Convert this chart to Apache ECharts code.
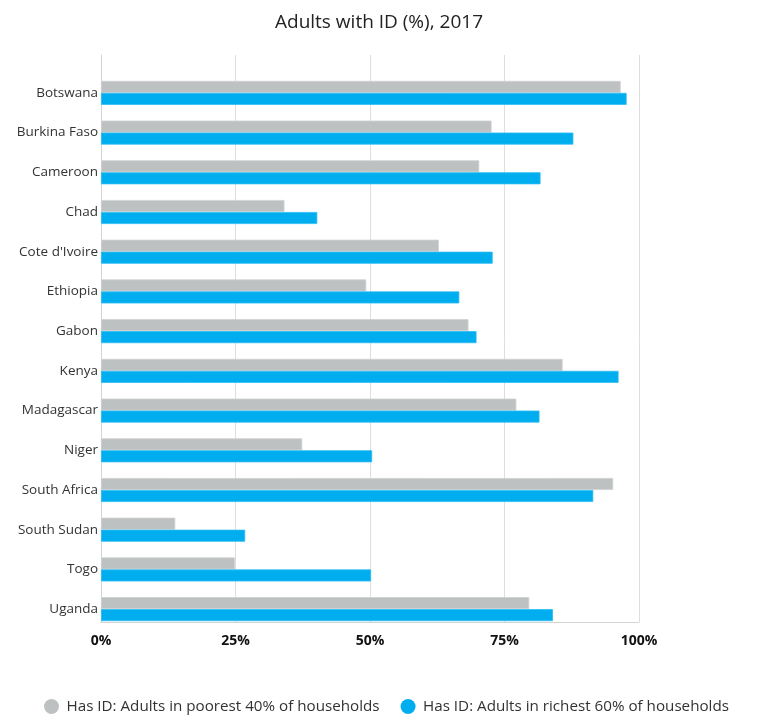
<!DOCTYPE html>
<html>
<head>
<meta charset="utf-8">
<script src="https://cdn.jsdelivr.net/npm/echarts@6/dist/echarts.min.js"></script>
<style>
html,body{margin:0;padding:0;background:#fff;}
#chart{width:760px;height:715px;}
</style>
</head>
<body>
<div id="chart"></div>
<script>
const categories = ["Botswana","Burkina Faso","Cameroon","Chad","Cote d'Ivoire","Ethiopia","Gabon","Kenya","Madagascar","Niger","South Africa","South Sudan","Togo","Uganda"];
const poorest40 = [96.6, 72.6, 70.3, 34.1, 62.8, 49.3, 68.3, 85.8, 77.2, 37.4, 95.2, 13.8, 24.9, 79.6];
const richest60 = [97.7, 87.8, 81.7, 40.2, 72.8, 66.6, 69.8, 96.2, 81.5, 50.4, 91.5, 26.8, 50.2, 84.0];
const seriesNames = ["Has ID: Adults in poorest 40% of households","Has ID: Adults in richest 60% of households"];
const titleText = "Adults with ID (%), 2017";

const chart = echarts.init(document.getElementById('chart'), null, {renderer:'canvas'});
const font = "'Open Sans', 'Noto Sans', sans-serif";
chart.setOption({
  animation:false,
  backgroundColor:'#fff',
  title:{text:titleText,left:374,textAlign:'center',top:8,
    textStyle:{fontFamily:font,fontSize:19,fontWeight:'normal',color:'#222'}},
  legend:{data:seriesNames,left:44,top:697,padding:[2,0,2,0],icon:'circle',itemWidth:20,itemHeight:15,itemGap:21,
    itemStyle:{borderWidth:0},
    textStyle:{fontFamily:font,fontSize:15.2,color:'#333'}},
  grid:[
    {left:101,right:121,top:73,bottom:86,containLabel:false},
    {left:101,right:121,top:55,bottom:93,containLabel:false}
  ],
  xAxis:[
    {type:'value',gridIndex:0,min:0,max:100,show:false},
    {type:'value',gridIndex:1,min:0,max:100,interval:25,
      axisLine:{show:true,lineStyle:{color:'#d4d4d4',width:1}},
      axisTick:{show:false},
      splitLine:{show:true,lineStyle:{color:'#dedede',width:1}},
      axisLabel:{formatter:'{value}%',fontFamily:font,fontSize:14,fontWeight:'bold',color:'#111',margin:12}}
  ],
  yAxis:[
    {type:'category',gridIndex:0,data:categories,inverse:true,
      axisLine:{show:false},axisTick:{show:false},splitLine:{show:false},
      axisLabel:{fontFamily:font,fontSize:13.5,color:'#333',margin:3}},
    {type:'value',gridIndex:1,min:0,max:1,
      axisLine:{show:true,lineStyle:{color:'#d4d4d4',width:1}},
      axisTick:{show:false},axisLabel:{show:false},splitLine:{show:false}}
  ],
  series:[
    {name:seriesNames[0],type:'bar',xAxisIndex:0,yAxisIndex:0,data:poorest40,barWidth:12,barGap:'0%',
      itemStyle:{color:'#bec1c2',borderColor:'#cfd1d2',borderWidth:0.8}},
    {name:seriesNames[1],type:'bar',xAxisIndex:0,yAxisIndex:0,data:richest60,barWidth:12,barGap:'0%',
      itemStyle:{color:'#00aeef',borderColor:'#2bbdf2',borderWidth:0.8}}
  ]
});
</script>
</body>
</html>
